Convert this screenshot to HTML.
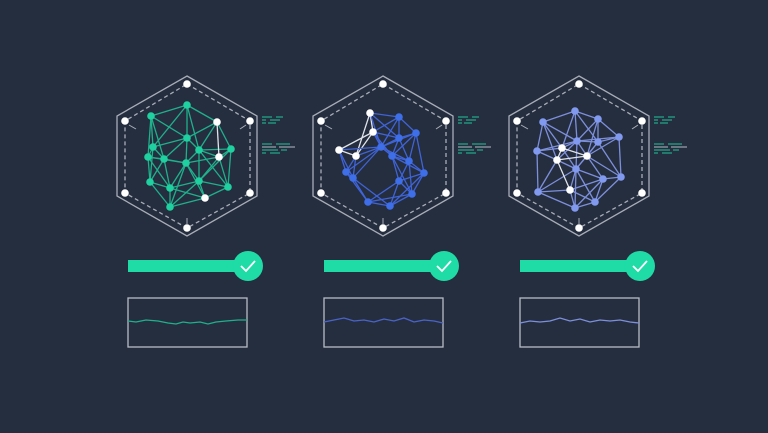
<!DOCTYPE html>
<html><head><meta charset="utf-8"><style>
html,body{margin:0;padding:0;background:#252e3e;width:768px;height:433px;overflow:hidden}
</style></head><body>
<svg id="s" width="768" height="433" viewBox="0 0 768 433" xmlns="http://www.w3.org/2000/svg">
<rect width="768" height="433" fill="#252e3e"/>
</svg>
<script>
const S=document.getElementById('s');const NS='http://www.w3.org/2000/svg';
function el(t,a){const e=document.createElementNS(NS,t);for(const k in a)e.setAttribute(k,a[k]);S.appendChild(e);return e;}
const sets=[
 {dx:0,col:'#1fd1a0',line:'#1fb08c',n:[[151,116],[187,105],[187,138],[153,147],[148,157],[164,159],[199,150],[231,149],[186,163],[150,182],[170,188],[199,181],[228,187],[170,207]],w:[[217,122],[219,157],[205,198]],wave:[[0,25],[8,26],[18,24],[30,25],[40,27],[48,28],[55,26],[62,27],[72,26],[80,28],[88,26],[98,25],[110,24],[119,24]],wc:'#1fb08c'},
 {dx:196,col:'#3f6fe8',line:'#3f63d8',n:[[399,117],[416,133],[399,138],[381,147],[392,156],[409,161],[346,172],[353,178],[424,173],[399,181],[412,194],[368,202],[390,206]].map(p=>[p[0]-196,p[1]]),w:[[370,113],[373,132],[339,150],[356,156]].map(p=>[p[0]-196,p[1]]),wave:[[0,26],[10,24],[20,22],[30,25],[40,24],[50,26],[60,23],[70,25],[80,22],[90,26],[100,24],[110,25],[119,27]],wc:'#4a63c8'},
 {dx:392,col:'#8199ef',line:'#7d8fdc',n:[[575,111],[543,122],[598,119],[619,137],[598,142],[577,141],[537,151],[576,169],[603,179],[621,177],[538,192],[595,202],[575,208]].map(p=>[p[0]-392,p[1]]),w:[[562,148],[587,156],[557,160],[570,190]].map(p=>[p[0]-392,p[1]]),wave:[[0,27],[10,25],[20,26],[30,25],[40,22],[50,25],[60,23],[70,26],[80,24],[90,25],[100,24],[110,26],[119,27]],wc:'#7d8fdc'}
];
sets.forEach(st=>{
 const d=st.dx,cx=187+d;
 el('polygon',{points:[[cx,76],[257+d,116],[257+d,196],[cx,236],[117+d,196],[117+d,116]].map(p=>p.join(',')).join(' '),fill:'none',stroke:'#a8adb8','stroke-width':1.3});
 const hv=[[cx,84],[250+d,121],[250+d,193],[cx,228],[125+d,193],[125+d,121]];
 el('polygon',{points:hv.map(p=>p.join(',')).join(' '),fill:'none',stroke:'#a8adb8','stroke-width':1.3,'stroke-dasharray':'4,3'});
 el('line',{x1:129+d,y1:125,x2:136+d,y2:129,stroke:'#a8adb8'});
 el('line',{x1:246+d,y1:125,x2:240+d,y2:129,stroke:'#a8adb8'});
 el('line',{x1:cx,y1:218,x2:cx,y2:224,stroke:'#a8adb8'});
 [[117,[[262,272],[276,283]]],[120,[[262,266],[270,280]]],[123,[[262,266],[268,276]]],[144,[[262,272],[276,290]]],[147,[[262,276],[279,295]]],[150,[[262,278],[281,287]]],[153,[[262,266],[270,280]]]].forEach(r=>{
  r[1].forEach((s,i)=>el('line',{x1:s[0]+d,y1:r[0],x2:s[1]+d,y2:r[0],stroke:(r[0]==147?'#b8bcc6':'#1fc49a'),'stroke-width':1}));
 });
 const all=st.n.map(p=>[p[0]+d,p[1],0]).concat(st.w.map(p=>[p[0]+d,p[1],1]));
 const seen={};
 all.forEach((a,i)=>{
  const ds=all.map((b,j)=>[Math.hypot(a[0]-b[0],a[1]-b[1]),j]).filter(x=>x[1]!=i).sort((x,y)=>x[0]-y[0]).slice(0,5);
  ds.forEach(x=>{const j=x[1];const k=Math.min(i,j)+'-'+Math.max(i,j);if(seen[k])return;seen[k]=1;const b=all[j];
   el('line',{x1:a[0],y1:a[1],x2:b[0],y2:b[1],stroke:(a[2]&&b[2])?'#dfe3ea':st.line,'stroke-width':1.3});});
 });
 all.forEach(p=>el('circle',{cx:p[0],cy:p[1],r:3.8,fill:p[2]?'#ffffff':st.col}));
 hv.forEach(p=>el('circle',{cx:p[0],cy:p[1],r:3.8,fill:'#ffffff'}));
 el('rect',{x:128+d,y:260,width:118,height:12,fill:'#1fdca6'});
 el('circle',{cx:248+d,cy:266,r:15,fill:'#1fdca6'});
 el('polyline',{points:`${241+d},266 ${246+d},271 ${255+d},261`,fill:'none',stroke:'#ffffff','stroke-width':1.8});
 el('rect',{x:128+d,y:298,width:119,height:49,fill:'none',stroke:'#b8bcc6','stroke-width':1.3});
 el('polyline',{points:st.wave.map(p=>[p[0]+128+d,p[1]+296].join(',')).join(' '),fill:'none',stroke:st.wc,'stroke-width':1.3});
});
</script>
</body></html>
